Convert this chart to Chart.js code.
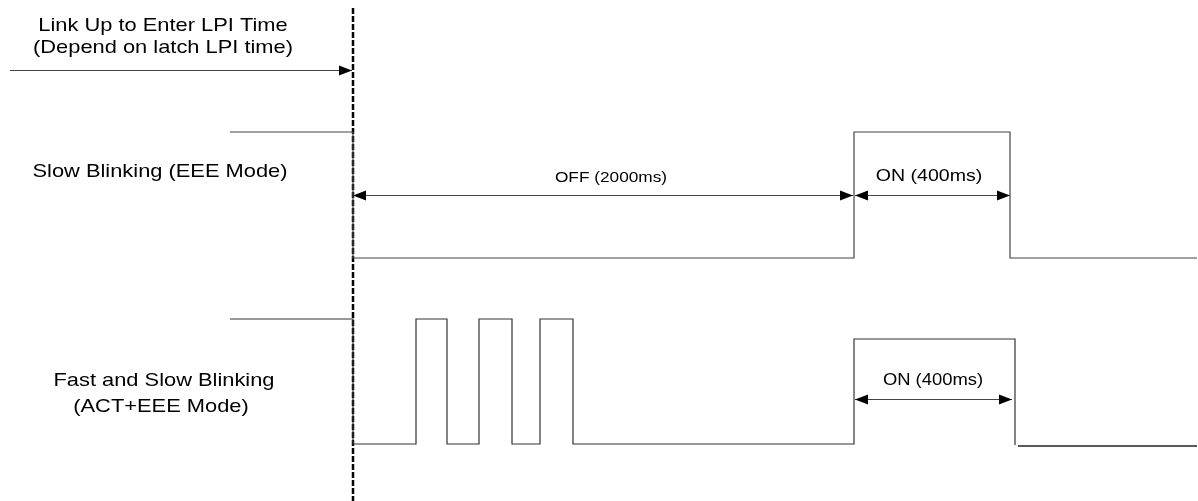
<!DOCTYPE html>
<html>
<head>
<meta charset="utf-8">
<script src="https://cdn.jsdelivr.net/npm/chart.js@4.4.1/dist/chart.umd.min.js"></script>
<style>
    html, body { margin: 0; padding: 0; background: #ffffff; }
    #wrap { width: 1198px; height: 501px; }
</style>
</head>
<body>
<div id="wrap"><canvas id="timing-chart" width="1198" height="501"></canvas></div>
<script>
// waveform edges (x) and the level held from each edge on (y, chart units, top = 0)
const slowEdges = [230, 353, 854, 1010, 1197];
const slowLevels = [132, 258, 132, 258, 258];
const fastEdges = [230, 353, 416, 447, 479, 512, 540, 573, 854, 1015];
const fastLevels = [319, 444, 319, 444, 319, 444, 319, 444, 339, 445];
const fastTailEdges = [1018, 1197];
const fastTailLevels = [446, 446];
const markerEdges = [353, 353];
const markerLevels = [8, 501];

// dimension arrows
const spanFrom = [10, 353, 855, 855];
const spanTo = [352, 853, 1010, 1012];
const spanAt = [70, 195, 195, 399];
const spanHeads = ["end", "both", "both", "both"];

// texts
const noteText = ["Link Up to Enter LPI Time", "(Depend on latch LPI time)",
    "Slow Blinking (EEE Mode)", "Fast and Slow Blinking", "(ACT+EEE Mode)",
    "OFF (2000ms)", "ON (400ms)", "ON (400ms)"];
const noteX = [163, 163, 160, 164, 161, 611, 929, 933];
const noteY = [26, 48, 172, 381, 407, 178, 176, 381];
const noteSize = [19, 19, 19, 19, 19, 15, 17, 16];

function toPoints(xs, ys) {
    return xs.map((x, i) => ({ x: x, y: ys[i] }));
}

const diagramPlugin = {
    id: "diagram",
    afterDatasetsDraw(chart) {
        const ctx = chart.ctx;
        const sx = chart.scales.x;
        const sy = chart.scales.y;

        ctx.save();
        ctx.strokeStyle = "#444444";
        ctx.fillStyle = "#000000";
        ctx.lineWidth = 1;
        for (let i = 0; i < spanFrom.length; i++) {
            const x1 = sx.getPixelForValue(spanFrom[i]);
            const x2 = sx.getPixelForValue(spanTo[i]);
            const y = Math.round(sy.getPixelForValue(spanAt[i])) + 0.5;
            ctx.beginPath();
            ctx.moveTo(x1, y);
            ctx.lineTo(x2, y);
            ctx.stroke();
            const heads = spanHeads[i] === "both" ? [[x1, 1], [x2, -1]] : [[x2, -1]];
            heads.forEach(function (h) {
                ctx.beginPath();
                ctx.moveTo(h[0], y);
                ctx.lineTo(h[0] + h[1] * 13, y - 5);
                ctx.lineTo(h[0] + h[1] * 13, y + 5);
                ctx.closePath();
                ctx.fill();
            });
        }

        ctx.fillStyle = "#000000";
        ctx.textAlign = "center";
        ctx.textBaseline = "middle";
        for (let i = 0; i < noteText.length; i++) {
            ctx.save();
            ctx.translate(sx.getPixelForValue(noteX[i]), sy.getPixelForValue(noteY[i]));
            ctx.scale(1.15, 1);
            ctx.font = noteSize[i] + "px 'Liberation Sans', Arial, sans-serif";
            ctx.fillText(noteText[i], 0, 0);
            ctx.restore();
        }
        ctx.restore();
    },
};

const config = {
    type: "line",
    data: {
        datasets: [
            {
                label: "Slow Blinking",
                data: toPoints(slowEdges, slowLevels),
                stepped: true,
                borderColor: "#444444",
                borderWidth: 1.2,
            },
            {
                label: "Fast and Slow Blinking",
                data: toPoints(fastEdges, fastLevels),
                stepped: true,
                borderColor: "#333333",
                borderWidth: 1.2,
            },
            {
                label: "Fast tail",
                data: toPoints(fastTailEdges, fastTailLevels),
                borderColor: "#222222",
                borderWidth: 1.5,
            },
            {
                label: "Enter LPI",
                data: toPoints(markerEdges, markerLevels),
                borderColor: "#000000",
                borderWidth: 2.5,
                borderDash: [6, 2],
            },
        ],
    },
    plugins: [diagramPlugin],
    options: {
        responsive: false,
        animation: false,
        layout: { padding: 0 },
        elements: {
            point: { radius: 0 },
            line: { tension: 0, capBezierPoints: false },
        },
        scales: {
            x: { type: "linear", min: 0, max: 1198, display: false },
            y: { type: "linear", min: 0, max: 501, reverse: true, display: false },
        },
        plugins: {
            legend: { display: false },
            tooltip: { enabled: false },
        },
    },
};

new Chart(document.getElementById("timing-chart"), config);
</script>
</body>
</html>
